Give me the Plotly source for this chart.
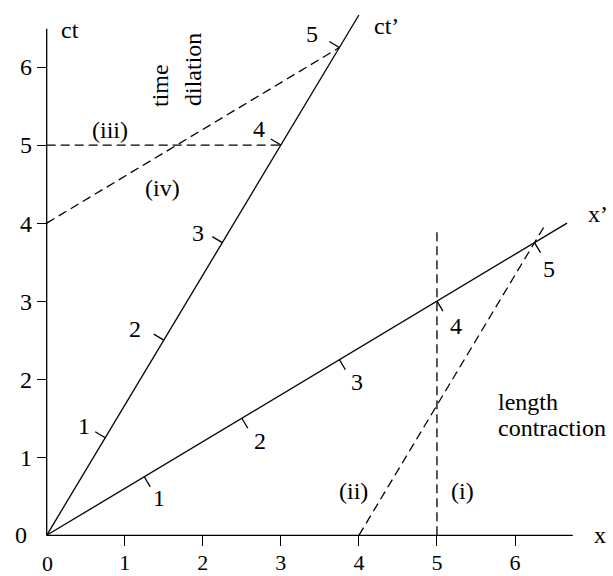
import numpy as np
import plotly.graph_objects as go

# ---------------- data ----------------
BETA = 0.6                                  # v/c of the primed frame
GAMMA = 1.0 / np.sqrt(1.0 - BETA ** 2)      # 1.25
X_TICKS = [1, 2, 3, 4, 5, 6]
Y_TICKS = [1, 2, 3, 4, 5, 6]
PRIME_TICKS = [1, 2, 3, 4, 5]
X_AXIS_END = 6.74
Y_AXIS_END = 6.49
CTP_END_X = 4.0          # ct' axis drawn up to x = 4
XP_END_CT = 4.0          # x' axis drawn up to ct = 4
ROD_X = 5.0              # (i)  vertical line x = 5
ROD_TOP = 3.9
WORLD_X0 = 4.0           # (ii) worldline starting at x = 4
WORLD_TOP = 4.0
SIM_CT = 5.0             # (iii) ct = 5
SIM_CT0 = 4.0            # (iv) simultaneity line through ct = 4

# ---------------- styling / layout ----------------
W, H = 613, 576
SCALE = 78.05            # px per unit
OX, OY = 46.7, 535.3     # pixel position of origin
ML, MR, MT, MB = 40, 0, 5, 30
FONT = "Liberation Serif, Times New Roman, Times, serif"
FS = 24
FS_X = 22
LW = 1.3
DASH = "9px,5px"
TICK_LEN = 0.15

xmin = (ML - OX) / SCALE
xmax = (W - MR - OX) / SCALE
ymin = -((H - MB) - OY) / SCALE
ymax = (OY - MT) / SCALE

fig = go.Figure()


def seg(x, y, dash=None):
    fig.add_trace(go.Scatter(x=x, y=y, mode="lines", hoverinfo="skip",
                             line=dict(color="black", width=LW, dash=dash)))


# axes lines
seg([0, X_AXIS_END], [0, 0])
seg([0, 0], [0, Y_AXIS_END])

# ct' axis and x' axis
seg([0, CTP_END_X], [0, CTP_END_X / BETA])
seg([0, XP_END_CT / BETA], [0, XP_END_CT])

# ticks on primed axes
n1 = np.array([-1.0, BETA]) / np.hypot(1.0, BETA)   # perpendicular to ct'
n2 = np.array([BETA, -1.0]) / np.hypot(1.0, BETA)   # perpendicular to x'
for k in PRIME_TICKS:
    p = GAMMA * k * np.array([BETA, 1.0])
    q = p + TICK_LEN * n1
    seg([p[0], q[0]], [p[1], q[1]])
    p = GAMMA * k * np.array([1.0, BETA])
    q = p + TICK_LEN * n2
    seg([p[0], q[0]], [p[1], q[1]])

# dashed construction lines
seg([ROD_X, ROD_X], [0, ROD_TOP], DASH)
seg([WORLD_X0, WORLD_X0 + BETA * WORLD_TOP], [0, WORLD_TOP], DASH)
seg([0, SIM_CT * BETA], [SIM_CT, SIM_CT], DASH)
xs = SIM_CT0 / (1.0 / BETA - BETA)
seg([0, xs], [SIM_CT0, SIM_CT0 + BETA * xs], DASH)

ann = []


def txt(x, y, s, dx=0, dy=0, angle=0, xanchor="center", size=FS):
    ann.append(dict(x=x, y=y, xref="x", yref="y", text=s, showarrow=False,
                    xshift=dx, yshift=dy, textangle=angle, xanchor=xanchor,
                    yanchor="middle", font=dict(family=FONT, size=size, color="black")))


def px(x, y):
    return (x - OX) / SCALE, (OY - y) / SCALE


ct_off = [(-21, 12), (-29, 11), (-24, 10), (-22, 16), (-27, 13)]
xp_off = [(15, -21), (18, -23), (18, -22), (19, -25), (14, -26)]
for k, o1, o2 in zip(PRIME_TICKS, ct_off, xp_off):
    txt(GAMMA * k * BETA, GAMMA * k, str(k), o1[0], o1[1])
    txt(GAMMA * k, GAMMA * k * BETA, str(k), o2[0], o2[1])

# zero labels
txt(0, 0, "0", -26, 0)
txt(0, 0, "0", 1, -28, size=FS_X)

for (pxx, pyy), s in [((70, 30), "ct"), ((386, 26), "ct’"), ((598, 214), "x’"),
                      ((600, 535), "x"), ((462, 491), "(i)"), ((353, 491), "(ii)"),
                      ((110, 130), "(iii)"), ((162, 188), "(iv)")]:
    x, y = px(pxx, pyy)
    txt(x, y, s)

x, y = px(160, 86)
txt(x, y, "time", angle=-90)
x, y = px(193, 70)
txt(x, y, "dilation", angle=-90)
x, y = px(496, 402)
txt(x, y, "length", xanchor="left")
x, y = px(496, 428)
txt(x, y, "contraction", xanchor="left")

axis_common = dict(showgrid=False, zeroline=False, showline=False, ticks="outside",
                   ticklen=10, tickwidth=LW, tickcolor="black", anchor="free")

fig.update_layout(
    width=W, height=H,
    margin=dict(l=ML, r=MR, t=MT, b=MB, autoexpand=False),
    paper_bgcolor="white", plot_bgcolor="white", showlegend=False,
    xaxis=dict(range=[xmin, xmax], tickvals=X_TICKS, ticklabelstandoff=-3,
               tickfont=dict(family=FONT, size=FS_X, color="black"),
               position=(0 - ymin) / (ymax - ymin), **axis_common),
    yaxis=dict(range=[ymin, ymax], tickvals=Y_TICKS,
               tickfont=dict(family=FONT, size=FS, color="black"),
               position=(0 - xmin) / (xmax - xmin), **axis_common),
    annotations=ann,
)

fig.write_html("out.html", config={"displayModeBar": False},
               post_script="document.body.style.margin='0px';document.body.style.overflow='hidden';")
